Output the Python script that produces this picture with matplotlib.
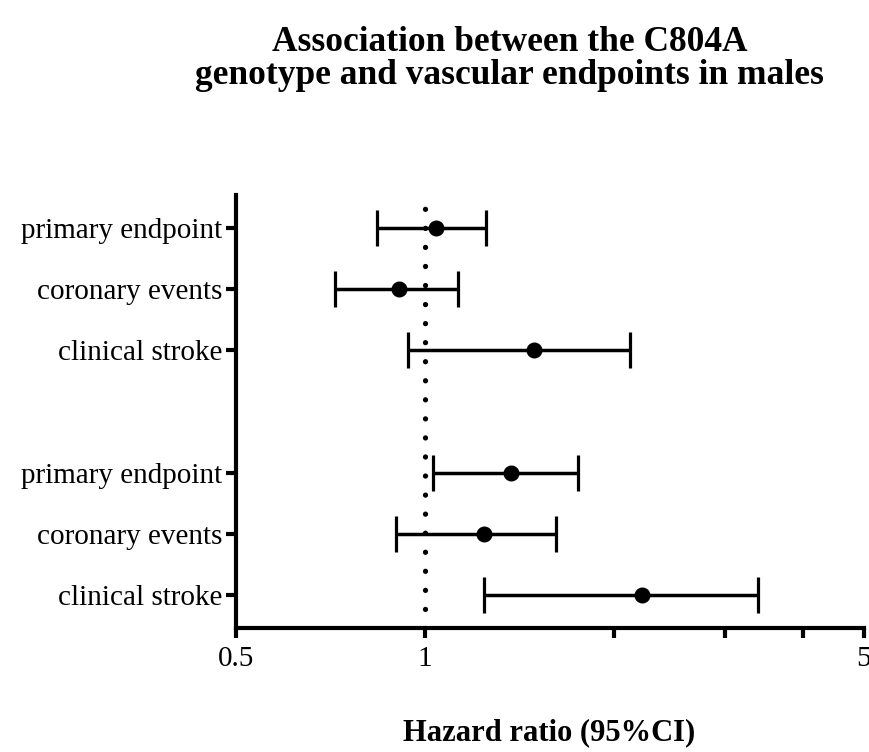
import matplotlib
matplotlib.use("Agg")
import matplotlib.pyplot as plt
from matplotlib.ticker import FixedLocator, NullFormatter

plt.rcParams['font.family'] = ['Liberation Serif', 'DejaVu Serif']

labels = ["primary endpoint", "coronary events", "clinical stroke",
          "primary endpoint", "coronary events", "clinical stroke"]
hr = [1.04, 0.91, 1.49, 1.37, 1.24, 2.22]
ci_low = [0.84, 0.72, 0.94, 1.03, 0.90, 1.24]
ci_high = [1.25, 1.13, 2.12, 1.75, 1.62, 3.39]
rows = [1, 2, 3, 5, 6, 7]

fig = plt.figure(figsize=(8.7, 7.52), dpi=100)
ax = fig.add_axes([0.271, 0.165, 0.722, 0.576])

err = [[h - lo for h, lo in zip(hr, ci_low)], [hi - h for h, hi in zip(hr, ci_high)]]
ax.errorbar(hr, rows, xerr=err, fmt='o', color='black', markersize=10.5,
            elinewidth=2.5, capsize=13, capthick=2.3)
ax.axvline(1, color='black', lw=3.8, linestyle=(0, (0.01, 3.6)), dash_capstyle='round', zorder=0)

ax.set_xscale('log')
ax.set_xlim(0.5, 5)
ax.set_ylim(7.53, 0.46)
ax.xaxis.set_major_locator(FixedLocator([0.5, 1, 5]))
ax.xaxis.set_minor_locator(FixedLocator([2, 3, 4]))
ax.xaxis.set_minor_formatter(NullFormatter())
ax.set_xticklabels(["0.5", "1", "5"])
ax.set_yticks(rows)
ax.set_yticklabels(labels)

for s in ['top', 'right']:
    ax.spines[s].set_visible(False)
for s in ['left', 'bottom']:
    ax.spines[s].set_linewidth(3)
ax.tick_params(axis='both', which='both', width=3, length=7, labelsize=21, direction='out')
ax.tick_params(axis='y', pad=3)
ax.tick_params(axis='x', pad=6)

fig.text(0.586, 0.965, "Association between the C804A\ngenotype and vascular endpoints in males",
         ha='center', va='top', fontsize=25.5, fontweight='bold', linespacing=1.0)
fig.text(0.631, 0.006, "Hazard ratio (95%CI)", ha='center', va='bottom',
         fontsize=22, fontweight='bold')

fig.savefig("out.png", dpi=100)
